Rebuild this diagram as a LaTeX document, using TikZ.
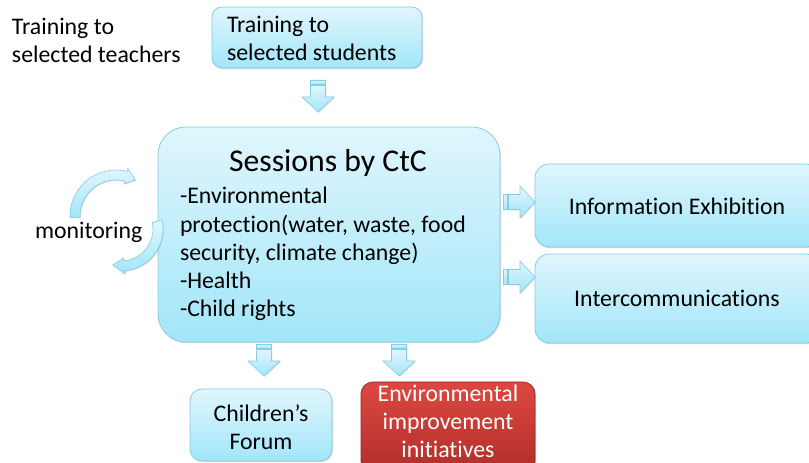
\documentclass[tikz,border=0pt]{standalone}
\usepackage{fontspec}
\setmainfont{Carlito}[Ligatures={NoCommon}]
\usetikzlibrary{shadows}
\definecolor{boxtop}{HTML}{E0F6FD}
\definecolor{boxbot}{HTML}{A2E6F9}
\definecolor{boxline}{HTML}{84CDE2}
\definecolor{redtop}{HTML}{DD4741}
\definecolor{redbot}{HTML}{B12F2A}
\definecolor{redline}{HTML}{9A2824}
\tikzset{
  every node/.style={inner sep=0pt, outer sep=0pt},
  txt/.style={font=\fontsize{23.8}{28.3}\selectfont},
  titletxt/.style={font=\fontsize{31.7}{36}\selectfont},
  bluebox/.style={draw=boxline, line width=0.8pt, top color=boxtop, bottom color=boxbot,
    rounded corners=#1, drop shadow={shadow xshift=1pt, shadow yshift=-1.2pt, opacity=0.3}},
  bluebox/.default=10pt,
  redbox/.style={draw=redline, line width=0.8pt, top color=redtop, bottom color=redbot,
    rounded corners=12pt, drop shadow={shadow xshift=1pt, shadow yshift=-1.2pt, opacity=0.35}},
  blockarrow/.style={draw=boxline, line width=0.6pt, top color=boxtop, bottom color=boxbot,
    drop shadow={shadow xshift=0.8pt, shadow yshift=-0.8pt, opacity=0.3}},
  striparrow/.pic={
    \path[blockarrow] (0,-7.5) rectangle (4,7.5);
    \path[blockarrow] (5.5,-7.5) -- (17,-7.5) -- (17,-16) -- (32,0) -- (17,16) -- (17,7.5) -- (5.5,7.5) -- cycle;
  }
}
\begin{document}
\begin{tikzpicture}[x=1pt,y=1pt]
\useasboundingbox (0,0) rectangle (809,463);
\clip (0,0) rectangle (809,463);

% boxes
\node[bluebox=10pt, minimum width=210pt, minimum height=61pt] (students) at (317,425.5) {};
\node[bluebox=28pt, minimum width=342pt, minimum height=215pt] (main) at (329,228.5) {};
\node[bluebox=14pt, minimum width=284pt, minimum height=83pt] (info) at (677,257.5) {};
\node[bluebox=14pt, minimum width=284pt, minimum height=89pt] (inter) at (677,164.5) {};
\node[bluebox=12pt, minimum width=142pt, minimum height=72pt] (forum) at (261,38) {};
\node[redbox, minimum width=174pt, minimum height=91pt] (envimp) at (448,35.5) {};

% texts
\node[txt, align=left, anchor=base west] (teachers) at (12,400) {Training to\\selected teachers};
\node[txt, align=left, anchor=base west] (studtxt) at (227,402) {Training to\\selected students};
\node[titletxt, anchor=base] (title) at (328,291) {Sessions by CtC};
\node[txt, align=left, anchor=base west] (body) at (180,146) {-Environmental\\protection(water, waste, food\\security, climate change)\\-Health\\-Child rights};
\node[txt, anchor=base] (infotxt) at (677,248.5) {Information Exhibition};
\node[txt, anchor=base] (intertxt) at (677,156.5) {Intercommunications};
\node[txt, align=center, anchor=base] (forumtxt) at (261,13) {Children’s\\Forum};
\node[txt, align=center, anchor=base, text=white] (envtxt) at (448,5) {Environmental\\improvement\\initiatives};
\node[txt, anchor=base west] (monit) at (35,224) {monitoring};

% block arrows
\pic[rotate=-90] at ([xshift=1pt,yshift=-12pt]students.south) {striparrow};
\pic at (503,261) {striparrow};
\pic at (503,186) {striparrow};
\pic[rotate=-90] at (264,119) {striparrow};
\pic[rotate=-90] at (399,119) {striparrow};

% monitoring cycle arrows
\begin{scope}[shift={(116,247)}]
  \path[blockarrow] (182:46) arc[start angle=182, end angle=76, radius=46]
    -- (76:49) -- (62:41) -- (76:33) -- (76:36)
    arc[start angle=76, end angle=182, radius=36] -- cycle;
\end{scope}
\begin{scope}[shift={(121,234)}]
  \path[blockarrow] (12:42) arc[start angle=12, end angle=-85, radius=42]
    -- (-85:45) -- (-103:37) -- (-85:29) -- (-85:32)
    arc[start angle=-85, end angle=12, radius=32] -- cycle;
\end{scope}
\end{tikzpicture}
\end{document}
